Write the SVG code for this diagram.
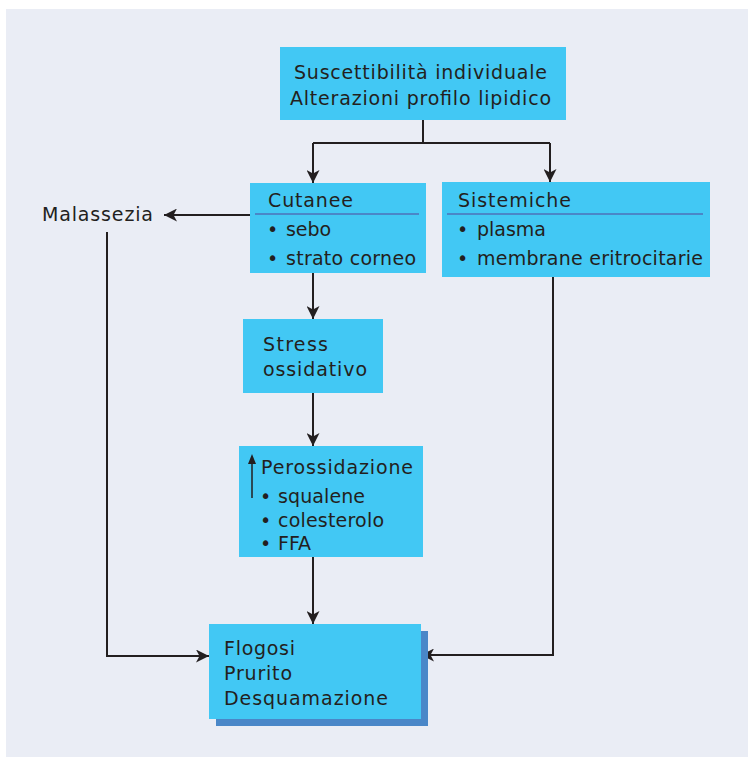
<svg xmlns="http://www.w3.org/2000/svg" width="748" height="758" viewBox="0 0 748 758">
<defs>
<style>
.box{fill:#42c8f4}
.t{font-family:"DejaVu Sans","Verdana",sans-serif;font-size:19px;fill:#231f20}
.c{fill:none;stroke:#231f20;stroke-width:2}
.sep{stroke:#4a87c8;stroke-width:2}
</style>
<marker id="ah" viewBox="0 0 13 13" refX="13" refY="6.5" markerWidth="13" markerHeight="13" markerUnits="userSpaceOnUse" orient="auto">
<path d="M0,0 L13,6.5 L0,13 L3.5,6.5 Z" fill="#231f20"/>
</marker>
</defs>
<rect x="6" y="9" width="742" height="748" fill="#eaedf5"/>
<g id="connectors">
<path class="c" d="M423,120 V143 M313,143 H550"/>
<path class="c" d="M313,143 V183" marker-end="url(#ah)"/>
<path class="c" d="M550,143 V182" marker-end="url(#ah)"/>
<path class="c" d="M250,215 H164" marker-end="url(#ah)"/>
<path class="c" d="M313,273 V319" marker-end="url(#ah)"/>
<path class="c" d="M313,393 V446" marker-end="url(#ah)"/>
<path class="c" d="M313,557 V624" marker-end="url(#ah)"/>
<path class="c" d="M107,232 V656 H209" marker-end="url(#ah)"/>
<path class="c" d="M553,277 V655 H421" marker-end="url(#ah)"/>
</g>
<g id="top">
<rect class="box" x="280" y="47" width="286" height="73"/>
<text class="t" x="294" y="79" textLength="253" lengthAdjust="spacing">Suscettibilità individuale</text>
<text class="t" x="290" y="105" textLength="261" lengthAdjust="spacing">Alterazioni profilo lipidico</text>
</g>
<g id="cutanee">
<rect class="box" x="250" y="183" width="176" height="90"/>
<line class="sep" x1="255" y1="214" x2="419" y2="214"/>
<text class="t" x="268" y="207" textLength="85" lengthAdjust="spacing">Cutanee</text>
<text class="t" x="267" y="236">•</text>
<text class="t" x="286" y="236" textLength="45" lengthAdjust="spacing">sebo</text>
<text class="t" x="267" y="265">•</text>
<text class="t" x="286" y="265" textLength="130" lengthAdjust="spacing">strato corneo</text>
</g>
<g id="sistemiche">
<rect class="box" x="442" y="182" width="268" height="95"/>
<line class="sep" x1="447" y1="214" x2="703" y2="214"/>
<text class="t" x="458" y="207" textLength="113" lengthAdjust="spacing">Sistemiche</text>
<text class="t" x="457" y="236">•</text>
<text class="t" x="477" y="236" textLength="69" lengthAdjust="spacing">plasma</text>
<text class="t" x="457" y="265">•</text>
<text class="t" x="477" y="265" textLength="226" lengthAdjust="spacing">membrane eritrocitarie</text>
</g>
<g id="malassezia">
<text class="t" x="42" y="221" textLength="111" lengthAdjust="spacing">Malassezia</text>
</g>
<g id="stress">
<rect class="box" x="243" y="319" width="140" height="74"/>
<text class="t" x="263" y="351" textLength="65" lengthAdjust="spacing">Stress</text>
<text class="t" x="263" y="376" textLength="104" lengthAdjust="spacing">ossidativo</text>
</g>
<g id="perossidazione">
<rect class="box" x="239" y="446" width="184" height="111"/>
<line x1="252" y1="498" x2="252" y2="462" stroke="#231f20" stroke-width="1.5"/>
<path d="M252,454 L256,464 L248,464 Z" fill="#231f20"/>
<text class="t" x="261" y="474" textLength="152" lengthAdjust="spacing">Perossidazione</text>
<text class="t" x="260" y="503">•</text>
<text class="t" x="278" y="503" textLength="87" lengthAdjust="spacing">squalene</text>
<text class="t" x="260" y="527">•</text>
<text class="t" x="278" y="527" textLength="106" lengthAdjust="spacing">colesterolo</text>
<text class="t" x="260" y="550">•</text>
<text class="t" x="278" y="550" textLength="33" lengthAdjust="spacing">FFA</text>
</g>
<g id="flogosi">
<rect x="216" y="631" width="212" height="95" fill="#4a87c8"/>
<rect class="box" x="209" y="624" width="212" height="95"/>
<text class="t" x="224" y="655" textLength="71" lengthAdjust="spacing">Flogosi</text>
<text class="t" x="224" y="680" textLength="68" lengthAdjust="spacing">Prurito</text>
<text class="t" x="224" y="705" textLength="164" lengthAdjust="spacing">Desquamazione</text>
</g>
</svg>
